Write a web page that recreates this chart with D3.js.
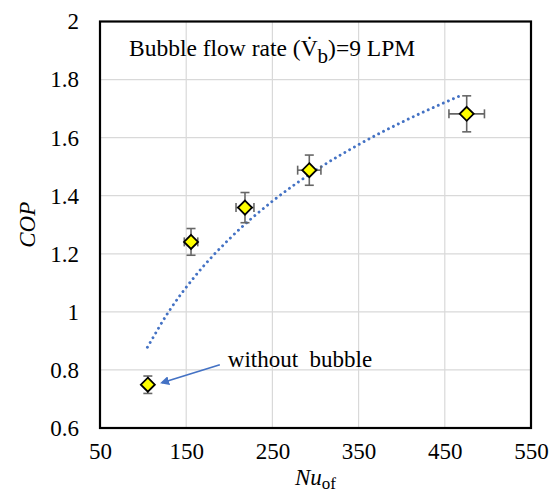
<!DOCTYPE html>
<html>
<head>
<meta charset="utf-8">
<script src="https://cdn.jsdelivr.net/npm/d3@7"></script>
<style>
  body { margin: 0; background: #fff; }
  svg text { font-family: 'Liberation Serif', 'DejaVu Serif', serif !important; fill: #000; }
</style>
</head>
<body>
<div id="container"></div>
<script>
/* DATA */
const nu = [105.5, 155.6, 218.2, 292.8, 475.4];
const cop = [0.749, 1.241, 1.359, 1.488, 1.682];
const copErr = [0.03, 0.046, 0.052, 0.052, 0.062];
const nuErr = [3, 7.8, 10.4, 13.5, 20.6];

// trendline (logarithmic)
const trendNu = [105, 130, 160, 200, 250, 300, 350, 400, 470];
const trendCop = [0.878, 1.002, 1.122, 1.251, 1.381, 1.487, 1.576, 1.653, 1.747];

const xTicks = [50, 150, 250, 350, 450, 550];
const yTicks = [0.6, 0.8, 1, 1.2, 1.4, 1.6, 1.8, 2];

/* CONSTANTS */
const width = 558;
const height = 494;
const margin = {top: 21.5, right: 27, bottom: 66, left: 100};
const serif = "'Liberation Serif', 'DejaVu Serif', serif";
const fs = 23;

const svg = d3.select("#container")
  .append("svg")
  .attr("width", width)
  .attr("height", height)
  .attr("font-family", serif)

/* SCALES */
const xScale = d3.scaleLinear()
  .domain([50, 550])
  .range([margin.left, width - margin.right])

const yScale = d3.scaleLinear()
  .domain([0.6, 2])
  .range([height - margin.bottom, margin.top])

// gridlines
svg.append("g")
  .selectAll("line")
  .data(xTicks.slice(1, -1))
  .join("line")
  .attr("x1", d => xScale(d)).attr("x2", d => xScale(d))
  .attr("y1", yScale(0.6)).attr("y2", yScale(2))
  .attr("stroke", "#d9d9d9").attr("stroke-width", 1.2)

svg.append("g")
  .selectAll("line")
  .data(yTicks.slice(1, -1))
  .join("line")
  .attr("y1", d => yScale(d)).attr("y2", d => yScale(d))
  .attr("x1", xScale(50)).attr("x2", xScale(550))
  .attr("stroke", "#d9d9d9").attr("stroke-width", 1.2)

// axes (labels only, frame drawn separately)
const xAxis = d3.axisBottom(xScale).tickValues(xTicks).tickSize(0).tickPadding(15)
const yAxis = d3.axisLeft(yScale).tickValues(yTicks).tickSize(0).tickPadding(21)
  .tickFormat(d3.format("~g"))

svg.append("g")
  .attr("transform", `translate(0,${yScale(0.6)})`)
  .call(xAxis)
  .attr("font-family", serif)
  .attr("font-size", fs)
  .call(g => g.select(".domain").remove())

svg.append("g")
  .attr("transform", `translate(${xScale(50)},0)`)
  .call(yAxis)
  .attr("font-family", serif)
  .attr("font-size", fs)
  .call(g => g.select(".domain").remove())

// plot frame
svg.append("rect")
  .attr("x", xScale(50)).attr("y", yScale(2))
  .attr("width", xScale(550) - xScale(50))
  .attr("height", yScale(0.6) - yScale(2))
  .attr("fill", "none").attr("stroke", "#000").attr("stroke-width", 2.2)

// trendline
const line = d3.line()
  .x((d, i) => xScale(trendNu[i]))
  .y(d => yScale(d))
  .curve(d3.curveMonotoneX)

svg.append("path")
  .datum(trendCop)
  .attr("d", line)
  .attr("fill", "none")
  .attr("stroke", "#4472c4")
  .attr("stroke-width", 2.9)
  .attr("stroke-linecap", "round")
  .attr("stroke-dasharray", "0.01 5.5")

// error bars
const pts = nu.map((d, i) => ({x: d, y: cop[i], ey: copErr[i], ex: nuErr[i]}))
const eb = svg.append("g").attr("stroke", "#666").attr("stroke-width", 1.6)
const cap = 4.5

pts.forEach(p => {
  const cx = xScale(p.x), cy = yScale(p.y)
  const y1 = yScale(p.y + p.ey), y2 = yScale(p.y - p.ey)
  const x1 = xScale(p.x - p.ex), x2 = xScale(p.x + p.ex)
  eb.append("line").attr("x1", cx).attr("x2", cx).attr("y1", y1).attr("y2", y2)
  eb.append("line").attr("x1", cx - cap).attr("x2", cx + cap).attr("y1", y1).attr("y2", y1)
  eb.append("line").attr("x1", cx - cap).attr("x2", cx + cap).attr("y1", y2).attr("y2", y2)
  eb.append("line").attr("x1", x1).attr("x2", x2).attr("y1", cy).attr("y2", cy)
  eb.append("line").attr("x1", x1).attr("x2", x1).attr("y1", cy - cap).attr("y2", cy + cap)
  eb.append("line").attr("x1", x2).attr("x2", x2).attr("y1", cy - cap).attr("y2", cy + cap)
})

// markers
svg.append("g")
  .selectAll("path")
  .data(pts)
  .join("path")
  .attr("d", "M0,-7L7,0L0,7L-7,0Z")
  .attr("transform", d => `translate(${xScale(d.x)},${yScale(d.y)})`)
  .attr("fill", "#ffff00")
  .attr("stroke", "#000")
  .attr("stroke-width", 1.8)

// title inside plot
const title = svg.append("text")
  .attr("x", 129).attr("y", 56)
  .attr("font-size", 23.5)
title.append("tspan").text("Bubble flow rate (V\u0307")
title.append("tspan").attr("font-size", 21).attr("dy", 7).text("b")
title.append("tspan").attr("dy", -7).text(")=9 LPM")

// annotation
svg.append("defs").append("marker")
  .attr("id", "arr")
  .attr("viewBox", "0 0 10 10")
  .attr("refX", 8).attr("refY", 5)
  .attr("markerWidth", 5).attr("markerHeight", 5)
  .attr("orient", "auto")
  .append("path")
  .attr("d", "M0,0L10,5L0,10Z")
  .attr("fill", "#4472c4")

const p0 = pts[0]
svg.append("line")
  .attr("x1", xScale(p0.x) + 72).attr("y1", yScale(p0.y) - 20)
  .attr("x2", xScale(p0.x) + 14).attr("y2", yScale(p0.y) - 2)
  .attr("stroke", "#4472c4").attr("stroke-width", 1.8)
  .attr("marker-end", "url(#arr)")

svg.append("text")
  .attr("x", xScale(p0.x) + 80).attr("y", yScale(p0.y) - 18)
  .attr("font-size", fs)
  .style("white-space", "pre")
  .text("without  bubble")

// axis titles
const xt = svg.append("text")
  .attr("x", (xScale(50) + xScale(550)) / 2)
  .attr("y", 485)
  .attr("text-anchor", "middle")
  .attr("font-size", fs)
xt.append("tspan").attr("font-style", "italic").text("Nu")
xt.append("tspan").attr("font-size", 17).attr("dy", 4).text("of")

svg.append("text")
  .attr("transform", `translate(35,${(yScale(0.6) + yScale(2)) / 2}) rotate(-90)`)
  .attr("text-anchor", "middle")
  .attr("font-size", fs)
  .attr("font-style", "italic")
  .text("COP")
</script>
</body>
</html>
